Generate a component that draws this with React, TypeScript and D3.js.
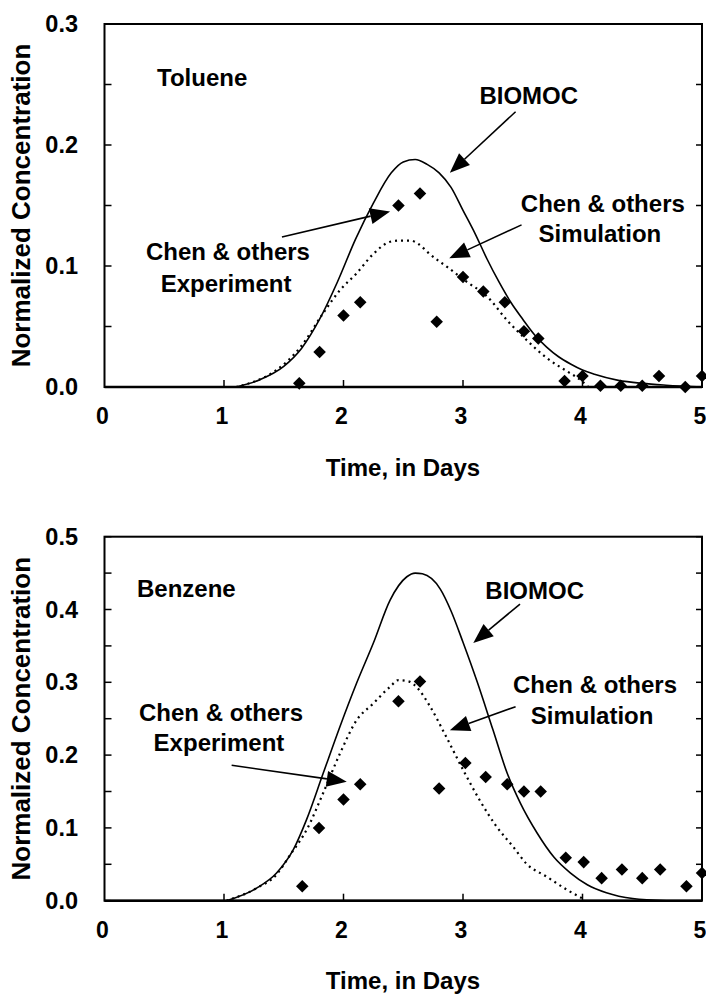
import React from "react";
import * as d3 from "d3";

// ---------- DATA ----------
const xTicks = [0, 1, 2, 3, 4, 5];
const tolueneYTicks = [0.0, 0.1, 0.2, 0.3];
const benzeneYTicks = [0.0, 0.1, 0.2, 0.3, 0.4, 0.5];

const tolueneBiomoc: [number, number][] = [
  [1.1, 0], [1.3, 0.006], [1.5, 0.017], [1.65, 0.032], [1.8, 0.056], [1.95, 0.087],
  [2.1, 0.122], [2.25, 0.152], [2.4, 0.177], [2.5, 0.186], [2.6, 0.188], [2.7, 0.184],
  [2.8, 0.177], [2.9, 0.165], [3.0, 0.146], [3.1, 0.127], [3.2, 0.106], [3.3, 0.087],
  [3.4, 0.07], [3.5, 0.056], [3.6, 0.043], [3.7, 0.033], [3.8, 0.025], [3.9, 0.019],
  [4.0, 0.014], [4.1, 0.0105], [4.3, 0.0055], [4.5, 0.003], [4.7, 0.0015], [5.0, 0],
];
const tolueneChenSim: [number, number][] = [
  [1.1, 0], [1.24, 0.004], [1.44, 0.014], [1.64, 0.033], [1.83, 0.061], [1.97, 0.08],
  [2.11, 0.094], [2.25, 0.11], [2.39, 0.12], [2.47, 0.121], [2.56, 0.121], [2.63, 0.118],
  [2.72, 0.11], [2.87, 0.099], [3.03, 0.087], [3.2, 0.075], [3.37, 0.055], [3.53, 0.039],
  [3.7, 0.024], [3.87, 0.013], [3.98, 0.006], [4.05, 0],
];
const tolueneChenExp: [number, number][] = [
  [1.63, 0.003], [1.8, 0.029], [2.0, 0.059], [2.14, 0.07], [2.46, 0.15], [2.64, 0.16],
  [2.78, 0.054], [3.0, 0.091], [3.17, 0.079], [3.35, 0.07], [3.51, 0.046], [3.63, 0.04],
  [3.85, 0.005], [4.0, 0.009], [4.15, 0.001], [4.32, 0.001], [4.5, 0.001], [4.64, 0.009],
  [4.86, 0], [5.0, 0.009],
];

const benzeneBiomoc: [number, number][] = [
  [1.02, 0], [1.27, 0.017], [1.44, 0.038], [1.58, 0.07], [1.69, 0.111], [1.83, 0.175],
  [1.97, 0.239], [2.11, 0.299], [2.25, 0.354], [2.39, 0.413], [2.53, 0.445], [2.6, 0.45],
  [2.66, 0.449], [2.81, 0.428], [2.9, 0.398], [3.0, 0.355], [3.12, 0.3], [3.25, 0.235],
  [3.37, 0.175], [3.48, 0.134], [3.62, 0.093], [3.76, 0.06], [3.9, 0.038], [4.04, 0.022],
  [4.2, 0.011], [4.42, 0.003], [4.7, 0],
];
const benzeneChenSim: [number, number][] = [
  [1.02, 0], [1.27, 0.017], [1.44, 0.036], [1.55, 0.062], [1.7, 0.1], [1.83, 0.148],
  [1.97, 0.202], [2.11, 0.248], [2.25, 0.271], [2.39, 0.294], [2.46, 0.303], [2.55, 0.301],
  [2.63, 0.29], [2.72, 0.268], [2.86, 0.225], [3.0, 0.18], [3.14, 0.138], [3.28, 0.102],
  [3.42, 0.074], [3.53, 0.051], [3.7, 0.033], [3.87, 0.015], [4.0, 0.003],
];
const benzeneChenExp: [number, number][] = [
  [1.655, 0.02], [1.795, 0.1], [2.0, 0.139], [2.14, 0.16], [2.46, 0.274], [2.64, 0.301],
  [2.8, 0.154], [3.02, 0.189], [3.19, 0.17], [3.37, 0.16], [3.51, 0.15], [3.65, 0.15],
  [3.86, 0.059], [4.01, 0.053], [4.16, 0.031], [4.33, 0.043], [4.5, 0.031], [4.65, 0.043],
  [4.87, 0.02], [5.0, 0.038],
];

const xTitle = "Time, in Days";
const yTitle = "Normalized Concentration";

// annotations in data units
type Label = { text: string; t: number; v: number; anchor: string };
type Arrow = { from: [number, number]; to: [number, number] };

const tolueneLabels: Label[] = [
  { text: "Toluene", t: 0.44, v: 0.249, anchor: "start" },
  { text: "BIOMOC", t: 3.55, v: 0.234, anchor: "middle" },
  { text: "Chen & others", t: 4.17, v: 0.1446, anchor: "middle" },
  { text: "Simulation", t: 4.146, v: 0.12, anchor: "middle" },
  { text: "Chen & others", t: 1.033, v: 0.105, anchor: "middle" },
  { text: "Experiment", t: 1.017, v: 0.0785, anchor: "middle" },
];
const tolueneArrows: Arrow[] = [
  { from: [3.44, 0.2275], to: [2.89, 0.177] },
  { from: [3.49, 0.134], to: [2.885, 0.1064] },
  { from: [1.485, 0.124], to: [2.39, 0.145] },
];
const benzeneLabels: Label[] = [
  { text: "Benzene", t: 0.272, v: 0.417, anchor: "start" },
  { text: "BIOMOC", t: 3.6, v: 0.414, anchor: "middle" },
  { text: "Chen & others", t: 4.105, v: 0.285, anchor: "middle" },
  { text: "Simulation", t: 4.08, v: 0.243, anchor: "middle" },
  { text: "Chen & others", t: 0.975, v: 0.247, anchor: "middle" },
  { text: "Experiment", t: 0.958, v: 0.206, anchor: "middle" },
];
const benzeneArrows: Arrow[] = [
  { from: [3.477, 0.4075], to: [3.086, 0.354] },
  { from: [3.44, 0.2665], to: [2.89, 0.234] },
  { from: [1.064, 0.186], to: [2.027, 0.1635] },
];

// ---------- STYLE ----------
const FONT = "'Liberation Sans', Arial, Helvetica, sans-serif";
const NARROW = "'Liberation Sans Narrow', 'Arial Narrow', 'Liberation Sans', sans-serif";

type PanelProps = {
  top: number;
  bottom: number;
  yMax: number;
  yTicks: number[];
  biomoc: [number, number][];
  sim: [number, number][];
  exp: [number, number][];
  labels: Label[];
  arrows: Arrow[];
};

const LEFT = 104.5;
const RIGHT = 702;

function Panel(p: PanelProps) {
  const x = d3.scaleLinear().domain([0, 5]).range([LEFT, RIGHT]);
  const y = d3.scaleLinear().domain([0, p.yMax]).range([p.bottom, p.top]);
  const line = d3
    .line<[number, number]>()
    .x((d) => x(d[0]))
    .y((d) => y(d[1]))
    .curve(d3.curveMonotoneX);
  const minor = d3.range(0, p.yMax + 1e-9, 0.05);
  const diamond = d3.symbol().type(d3.symbolDiamond2).size(100)();

  const arrowPath = (a: Arrow) => {
    const x1 = x(a.from[0]), y1 = y(a.from[1]);
    const x2 = x(a.to[0]), y2 = y(a.to[1]);
    const ang = Math.atan2(y2 - y1, x2 - x1);
    const L = 20, W = 8;
    const bx = x2 - L * Math.cos(ang), by = y2 - L * Math.sin(ang);
    const px = -Math.sin(ang) * W, py = Math.cos(ang) * W;
    return {
      line: `M${x1},${y1}L${bx},${by}`,
      head: `M${x2},${y2}L${bx + px},${by + py}L${bx - px},${by - py}Z`,
    };
  };

  const midY = (p.top + p.bottom) / 2;
  return (
    <g>
      {/* frame */}
      <rect x={LEFT} y={p.top} width={RIGHT - LEFT} height={p.bottom - p.top} fill="none" stroke="#000" strokeWidth={2} />
      <line x1={LEFT} x2={RIGHT} y1={p.bottom} y2={p.bottom} stroke="#000" strokeWidth={2.5} />
      {/* y ticks */}
      {minor.map((v, i) => (
        <g key={"yt" + i}>
          <line x1={LEFT} x2={LEFT + 7} y1={y(v)} y2={y(v)} stroke="#000" strokeWidth={1.5} />
          <line x1={RIGHT - 6} x2={RIGHT} y1={y(v)} y2={y(v)} stroke="#000" strokeWidth={1.5} />
        </g>
      ))}
      {p.yTicks.map((v) => (
        <text key={"yl" + v} x={78} y={y(v)} textAnchor="end" dominantBaseline="central"
          fontFamily={FONT} fontWeight="bold" fontSize={23.5}>{v.toFixed(1)}</text>
      ))}
      {/* x ticks */}
      {xTicks.map((t) => (
        <g key={"xt" + t}>
          {t > 0 && t < 5 && <line x1={x(t)} x2={x(t)} y1={p.bottom} y2={p.bottom - 7} stroke="#000" strokeWidth={1.5} />}
          <text x={x(t) - 2} y={p.bottom + 29} textAnchor="middle" dominantBaseline="central"
            fontFamily={NARROW} fontWeight="bold" fontSize={23}>{t}</text>
        </g>
      ))}
      <text x={403} y={p.bottom + 80} textAnchor="middle" dominantBaseline="central"
        fontFamily={NARROW} fontWeight="bold" fontSize={24}>{xTitle}</text>
      <text transform={`translate(21,${midY}) rotate(-90)`} textAnchor="middle" dominantBaseline="central"
        fontFamily={FONT} fontWeight="bold" fontSize={26}>{yTitle}</text>
      {/* series */}
      <path d={line(p.biomoc) || ""} fill="none" stroke="#000" strokeWidth={1.6} />
      <path d={line(p.sim) || ""} fill="none" stroke="#000" strokeWidth={2.2} strokeDasharray="2,4" />
      {p.exp.map((d, i) => (
        <path key={"e" + i} d={diamond || ""} transform={`translate(${x(d[0])},${y(d[1])})`} fill="#000" />
      ))}
      {/* annotations */}
      {p.labels.map((l, i) => (
        <text key={"l" + i} x={x(l.t)} y={y(l.v)} textAnchor={l.anchor}
          fontFamily={FONT} fontWeight="bold" fontSize={24}>{l.text}</text>
      ))}
      {p.arrows.map((a, i) => {
        const ap = arrowPath(a);
        return (
          <g key={"a" + i}>
            <path d={ap.line} stroke="#000" strokeWidth={1.6} fill="none" />
            <path d={ap.head} fill="#000" />
          </g>
        );
      })}
    </g>
  );
}

export default function App() {
  return (
    <div style={{ position: "absolute", left: 0, top: 0 }}>
      <svg width={706} height={994} style={{ display: "block", background: "#fff" }}>
        <Panel top={24} bottom={387} yMax={0.3} yTicks={tolueneYTicks}
          biomoc={tolueneBiomoc} sim={tolueneChenSim} exp={tolueneChenExp}
          labels={tolueneLabels} arrows={tolueneArrows} />
        <Panel top={536.7} bottom={900.7} yMax={0.5} yTicks={benzeneYTicks}
          biomoc={benzeneBiomoc} sim={benzeneChenSim} exp={benzeneChenExp}
          labels={benzeneLabels} arrows={benzeneArrows} />
      </svg>
    </div>
  );
}
